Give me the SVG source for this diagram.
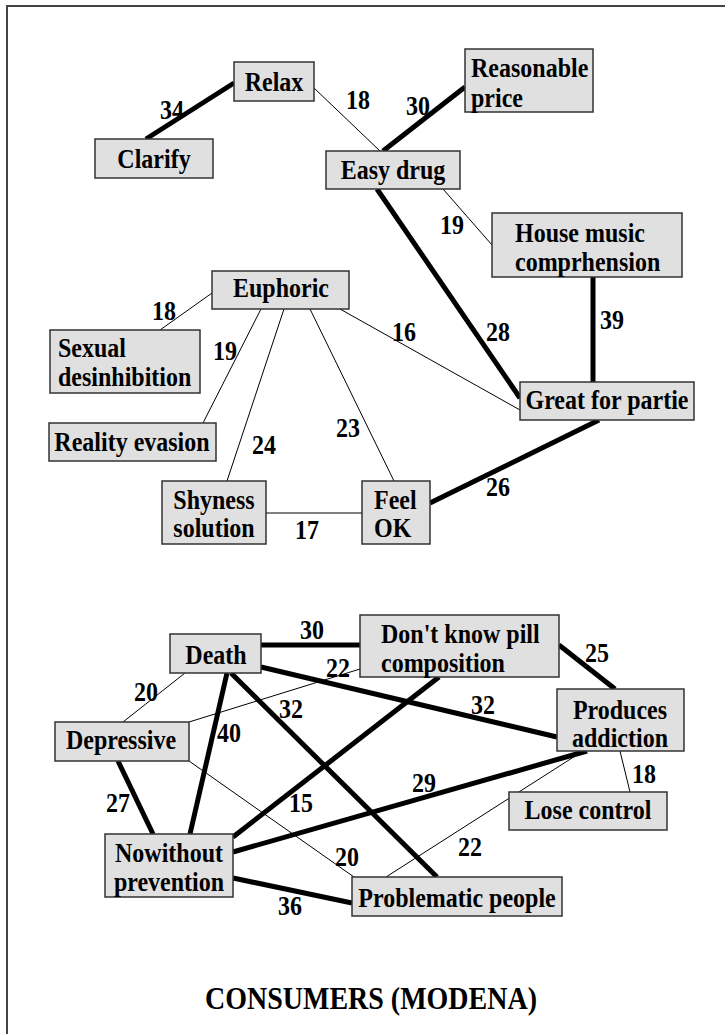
<svg xmlns="http://www.w3.org/2000/svg" width="725" height="1034" viewBox="0 0 725 1034">
  <style>
    text { font-family: "Liberation Serif", "Times New Roman", serif; font-weight: bold; font-size: 24px; fill: #000;
           transform-box: fill-box; transform-origin: center; transform: scaleY(1.1); }
    .box { fill: #e0e0e0; stroke: #333; stroke-width: 1.5; }
    .thin { stroke: #000; stroke-width: 1; fill: none; }
    .thick { stroke: #000; stroke-width: 5; fill: none; }
    .c { text-anchor: middle; }
    .title { font-size: 28px; }
  </style>
  <rect x="0" y="0" width="725" height="1034" fill="#fff"/>
  <!-- page frame, running off the right and bottom edges -->
  <rect x="7" y="6" width="740" height="1060" fill="none" stroke="#444" stroke-width="2"/>

  <g id="connectors">
    <!-- upper network -->
    <line class="thick" x1="146" y1="139" x2="234" y2="83"/>
    <line class="thin" x1="314" y1="88" x2="380" y2="151"/>
    <line class="thick" x1="383" y1="151" x2="465" y2="87"/>
    <line class="thin" x1="443" y1="189" x2="492" y2="245"/>
    <line class="thick" x1="377" y1="189" x2="520" y2="398"/>
    <line class="thick" x1="593" y1="277" x2="593" y2="382"/>
    <line class="thin" x1="212" y1="293" x2="160" y2="330"/>
    <line class="thin" x1="261" y1="309" x2="203" y2="423"/>
    <line class="thin" x1="284" y1="309" x2="227" y2="481"/>
    <line class="thin" x1="310" y1="309" x2="394" y2="481"/>
    <line class="thin" x1="340" y1="309" x2="520" y2="410"/>
    <line class="thin" x1="266" y1="513" x2="362" y2="513"/>
    <line class="thick" x1="430" y1="503" x2="599" y2="420"/>
    <!-- lower network -->
    <line class="thick" x1="261" y1="645" x2="360" y2="645"/>
    <line class="thin" x1="360" y1="669" x2="189" y2="722"/>
    <line class="thick" x1="559" y1="645" x2="615" y2="689"/>
    <line class="thick" x1="261" y1="667" x2="557" y2="737"/>
    <line class="thin" x1="185" y1="673" x2="123" y2="722"/>
    <line class="thick" x1="227" y1="673" x2="190" y2="834"/>
    <line class="thick" x1="231" y1="673" x2="437" y2="877"/>
    <line class="thick" x1="439" y1="677" x2="233" y2="837"/>
    <line class="thick" x1="118" y1="761" x2="153" y2="834"/>
    <line class="thin" x1="189" y1="761" x2="354" y2="877"/>
    <line class="thick" x1="587" y1="751" x2="233" y2="852"/>
    <line class="thin" x1="620" y1="751" x2="630" y2="792"/>
    <line class="thin" x1="583" y1="751" x2="386" y2="877"/>
    <line class="thick" x1="233" y1="878" x2="352" y2="903"/>
  </g>

  <g id="edge-labels">
    <text class="c" x="172" y="118">34</text>
    <text class="c" x="358" y="108">18</text>
    <text class="c" x="418" y="114">30</text>
    <text class="c" x="452" y="233">19</text>
    <text class="c" x="498" y="340">28</text>
    <text class="c" x="612" y="328">39</text>
    <text class="c" x="164" y="319">18</text>
    <text class="c" x="225" y="359">19</text>
    <text class="c" x="404" y="340">16</text>
    <text class="c" x="264" y="453">24</text>
    <text class="c" x="348" y="436">23</text>
    <text class="c" x="498" y="495">26</text>
    <text class="c" x="307" y="538">17</text>
    <text class="c" x="312" y="638">30</text>
    <text class="c" x="338" y="676">22</text>
    <text class="c" x="597" y="661">25</text>
    <text class="c" x="483" y="713">32</text>
    <text class="c" x="291" y="717">32</text>
    <text class="c" x="229" y="741">40</text>
    <text class="c" x="146" y="700">20</text>
    <text class="c" x="118" y="811">27</text>
    <text class="c" x="301" y="811">15</text>
    <text class="c" x="424" y="791">29</text>
    <text class="c" x="347" y="865">20</text>
    <text class="c" x="644" y="782">18</text>
    <text class="c" x="470" y="855">22</text>
    <text class="c" x="290" y="914">36</text>
  </g>

  <g id="relax"><rect class="box" x="234" y="62" width="80" height="39"/><text class="c" x="274" y="90">Relax</text></g>
  <g id="reasonable-price"><rect class="box" x="465" y="49" width="128" height="63"/><text x="471" y="76">Reasonable</text><text x="471" y="106">price</text></g>
  <g id="clarify"><rect class="box" x="95" y="139" width="118" height="39"/><text class="c" x="154" y="167">Clarify</text></g>
  <g id="easy-drug"><rect class="box" x="326" y="151" width="134" height="38"/><text class="c" x="393" y="178">Easy drug</text></g>
  <g id="house-music"><rect class="box" x="492" y="213" width="190" height="64"/><text x="515" y="241">House music</text><text x="515" y="270">comprhension</text></g>
  <g id="euphoric"><rect class="box" x="212" y="271" width="137" height="38"/><text class="c" x="281" y="296">Euphoric</text></g>
  <g id="sexual-desinhibition"><rect class="box" x="50" y="330" width="150" height="63"/><text x="58" y="356">Sexual</text><text x="58" y="385">desinhibition</text></g>
  <g id="reality-evasion"><rect class="box" x="49" y="423" width="167" height="38"/><text class="c" x="132" y="450">Reality evasion</text></g>
  <g id="great-for-partie"><rect class="box" x="520" y="382" width="174" height="38"/><text class="c" x="607" y="408">Great for partie</text></g>
  <g id="shyness-solution"><rect class="box" x="162" y="481" width="104" height="63"/><text class="c" x="214" y="508">Shyness</text><text class="c" x="214" y="536">solution</text></g>
  <g id="feel-ok"><rect class="box" x="362" y="481" width="68" height="63"/><text x="374" y="508">Feel</text><text x="374" y="536">OK</text></g>

  <g id="death"><rect class="box" x="170" y="634" width="91" height="39"/><text class="c" x="216" y="663">Death</text></g>
  <g id="dont-know-pill"><rect class="box" x="360" y="615" width="199" height="62"/><text x="381" y="642">Don't know pill</text><text x="381" y="671">composition</text></g>
  <g id="produces-addiction"><rect class="box" x="557" y="689" width="127" height="62"/><text class="c" x="620" y="718">Produces</text><text class="c" x="620" y="746">addiction</text></g>
  <g id="depressive"><rect class="box" x="55" y="722" width="134" height="39"/><text class="c" x="121" y="748">Depressive</text></g>
  <g id="lose-control"><rect class="box" x="509" y="792" width="158" height="38"/><text class="c" x="588" y="818">Lose control</text></g>
  <g id="nowithout-prevention"><rect class="box" x="105" y="834" width="128" height="63"/><text class="c" x="169" y="861">Nowithout</text><text class="c" x="169" y="890">prevention</text></g>
  <g id="problematic-people"><rect class="box" x="352" y="877" width="210" height="39"/><text class="c" x="457" y="906">Problematic people</text></g>

  <text class="c title" x="371" y="1008">CONSUMERS (MODENA)</text>
</svg>
